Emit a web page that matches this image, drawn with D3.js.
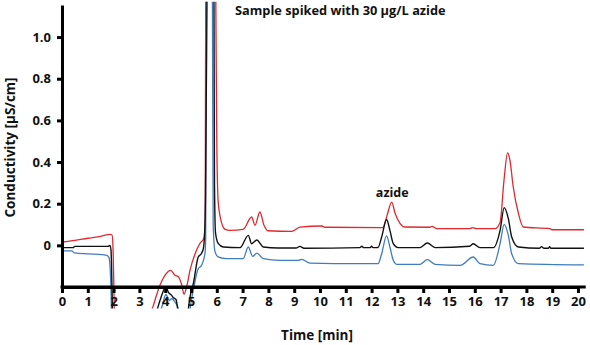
<!DOCTYPE html>
<html><head><meta charset="utf-8">
<script src="https://cdn.jsdelivr.net/npm/d3@7"></script>
<style>
body{margin:0;background:#fff}
text{font-family:"Open Sans",sans-serif;font-weight:700;fill:#111}
</style>
</head><body>
<svg id="chart" width="590" height="345"></svg>
<script>
const xTicks=[0,1,2,3,4,5,6,7,8,9,10,11,12,13,14,15,16,17,18,19,20];
const yTicks=[0,0.2,0.4,0.6,0.8,1.0];
const yTickLabels=["0","0.2","0.4","0.6","0.8","1.0"];
const titleText="Sample spiked with 30 µg/L azide";
const peakLabel={t:12.8,v:0.23,text:"azide"};

const redT=[0,0.5,1.0,1.5,1.86,1.94,1.98,2.02,2.05,3.3,3.41,3.53,3.8,3.99,4.21,4.38,4.5,4.64,4.73,4.83,4.96,5.16,5.35,5.5,5.55,5.57,5.76,5.96,6.0,6.05,6.12,6.32,6.51,7.02,7.35,7.48,7.67,7.83,7.98,8.9,9.22,10.07,10.19,12.44,12.6,12.78,12.91,13.1,13.29,14.26,14.34,14.53,15.8,15.93,16.05,16.78,16.98,17.13,17.27,17.36,17.49,17.69,17.88,18.91,18.99,20.23];
const redV=[0.016,0.024,0.034,0.043,0.053,0.05,-0.024,-0.26,-0.45,-0.45,-0.34,-0.293,-0.19,-0.144,-0.12,-0.144,-0.15,-0.19,-0.235,-0.2,-0.12,-0.04,0.01,0.034,0.1,1.2,3.5,1.2,0.5,0.216,0.144,0.077,0.072,0.077,0.136,0.096,0.16,0.096,0.07,0.067,0.087,0.093,0.087,0.085,0.144,0.208,0.154,0.106,0.088,0.087,0.091,0.08,0.08,0.085,0.08,0.08,0.11,0.31,0.444,0.41,0.28,0.154,0.088,0.08,0.075,0.075];

const blackT=[0,0.43,0.5,1.78,1.86,1.9,1.94,1.98,3.3,3.68,3.8,4.03,4.12,4.25,4.31,4.42,4.47,4.53,4.81,4.9,4.96,5.09,5.28,5.41,5.48,5.52,5.56,5.62,5.75,5.89,5.91,5.95,6.06,6.25,6.9,7.22,7.35,7.55,7.8,8.38,9.07,9.22,9.38,11.55,11.62,11.7,11.95,12.0,12.05,12.25,12.39,12.58,12.71,12.84,13.03,13.88,14.16,14.46,15.8,15.94,16.2,16.72,16.98,17.14,17.3,17.43,17.69,18.5,18.59,18.68,18.85,18.9,18.95,20.23];
const blackV=[-0.011,-0.011,-0.005,-0.005,0,-0.024,-0.216,-0.45,-0.45,-0.313,-0.264,-0.2,-0.225,-0.24,-0.25,-0.26,-0.293,-0.36,-0.45,-0.303,-0.25,-0.184,-0.056,-0.038,-0.014,0.038,0.216,1.2,3.5,1.2,0.3,0.06,0.008,-0.008,-0.011,0.048,0.008,0.026,-0.008,-0.013,-0.013,-0.005,-0.014,-0.011,-0.004,-0.011,-0.011,-0.004,-0.011,-0.01,0.04,0.124,0.072,0.008,-0.011,-0.011,0.011,-0.011,-0.004,0.008,-0.011,-0.011,0.072,0.181,0.128,0.04,-0.008,-0.014,-0.006,-0.014,-0.014,-0.007,-0.014,-0.014];

const blueT=[0,0.38,0.47,1.09,1.73,1.82,1.9,1.94,3.3,3.8,3.86,4.03,4.16,4.25,4.38,4.51,4.57,4.88,4.96,5.09,5.28,5.41,5.54,5.57,5.6,5.72,5.83,5.86,5.93,6.05,6.38,7.02,7.22,7.39,7.55,7.8,8.45,9.15,9.29,9.61,11.47,12.25,12.39,12.58,12.71,12.84,12.97,13.88,14.16,14.46,15.43,15.94,16.2,16.72,16.98,17.14,17.3,17.43,17.69,20.23];
const blueV=[-0.027,-0.027,-0.036,-0.041,-0.048,-0.058,-0.216,-0.45,-0.45,-0.322,-0.3,-0.236,-0.264,-0.256,-0.273,-0.304,-0.36,-0.45,-0.313,-0.216,-0.112,-0.096,-0.04,0.04,1.2,3.5,1.2,0.1,-0.03,-0.055,-0.064,-0.064,-0.008,-0.053,-0.037,-0.064,-0.072,-0.072,-0.067,-0.085,-0.088,-0.088,-0.04,0.045,-0.008,-0.072,-0.091,-0.091,-0.069,-0.091,-0.096,-0.056,-0.088,-0.096,0.008,0.101,0.048,-0.04,-0.088,-0.094];

const series=[
  {name:"red",t:redT,v:redV,color:"#e3272d",w:1.3},
  {name:"blue",t:blueT,v:blueV,color:"#3f7cc0",w:1.3},
  {name:"black",t:blackT,v:blackV,color:"#111111",w:1.4}
];

const svg=d3.select("#chart");
const x=d3.scaleLinear().domain([0,20]).range([62,578]);
const y=d3.scaleLinear().domain([-0.2,1.154]).range([287,5]);

svg.append("defs").append("clipPath").attr("id","clip")
  .append("rect").attr("x",0).attr("y",y(1.17)).attr("width",590).attr("height",y(-0.303)-y(1.17));

const line=d3.line().x(d=>x(d[0])).y(d=>y(d[1])).curve(d3.curveMonotoneX);
const g=svg.append("g").attr("clip-path","url(#clip)");
series.forEach(s=>{
  const pts=s.t.map((t,i)=>[t,s.v[i]]);
  g.append("path").datum(pts).attr("d",line).attr("fill","none")
   .attr("stroke",s.color).attr("stroke-width",s.w).attr("stroke-linejoin","round");
});

// axes
const yAxis=d3.axisLeft(y).tickValues(yTicks).tickFormat((d,i)=>yTickLabels[i]).tickSize(5).tickSizeOuter(0).tickPadding(6);
const ya=svg.append("g").attr("transform",`translate(${x(0)},0)`).call(yAxis);
ya.select(".domain").attr("stroke","#000").attr("stroke-width",3);
ya.selectAll(".tick line").attr("stroke","#000").attr("stroke-width",3);
ya.selectAll("text").attr("font-size",13).attr("font-family","Open Sans").attr("font-weight",700).attr("fill","#111");

const xAxis=d3.axisBottom(x).tickValues(xTicks).tickFormat(d3.format("d")).tickSize(6).tickSizeOuter(0).tickPadding(4);
const xa=svg.append("g").attr("transform",`translate(0,${y(-0.2)})`).call(xAxis);
xa.select(".domain").attr("stroke","#000").attr("stroke-width",3);
xa.selectAll(".tick line").attr("stroke","#000").attr("stroke-width",3);
xa.selectAll("text").attr("font-size",13).attr("font-family","Open Sans").attr("font-weight",700).attr("fill","#111");
svg.append("line").attr("x1",x(0)-1.5).attr("x2",x(20.3)).attr("y1",y(-0.2)).attr("y2",y(-0.2))
  .attr("stroke","#000").attr("stroke-width",3);

svg.append("text").attr("x",x(10)-3).attr("y",340).attr("text-anchor","middle").attr("font-size",13.5).text("Time [min]");
svg.append("text").attr("transform",`translate(15,${y(0.47)}) rotate(-90)`).attr("text-anchor","middle").attr("font-size",13.5).text("Conductivity [µS/cm]");
svg.append("text").attr("x",235).attr("y",15).attr("font-size",12.8).text(titleText);
svg.append("text").attr("x",x(peakLabel.t)).attr("y",y(peakLabel.v)).attr("text-anchor","middle").attr("font-size",12.5).text(peakLabel.text);
</script>
</body></html>
